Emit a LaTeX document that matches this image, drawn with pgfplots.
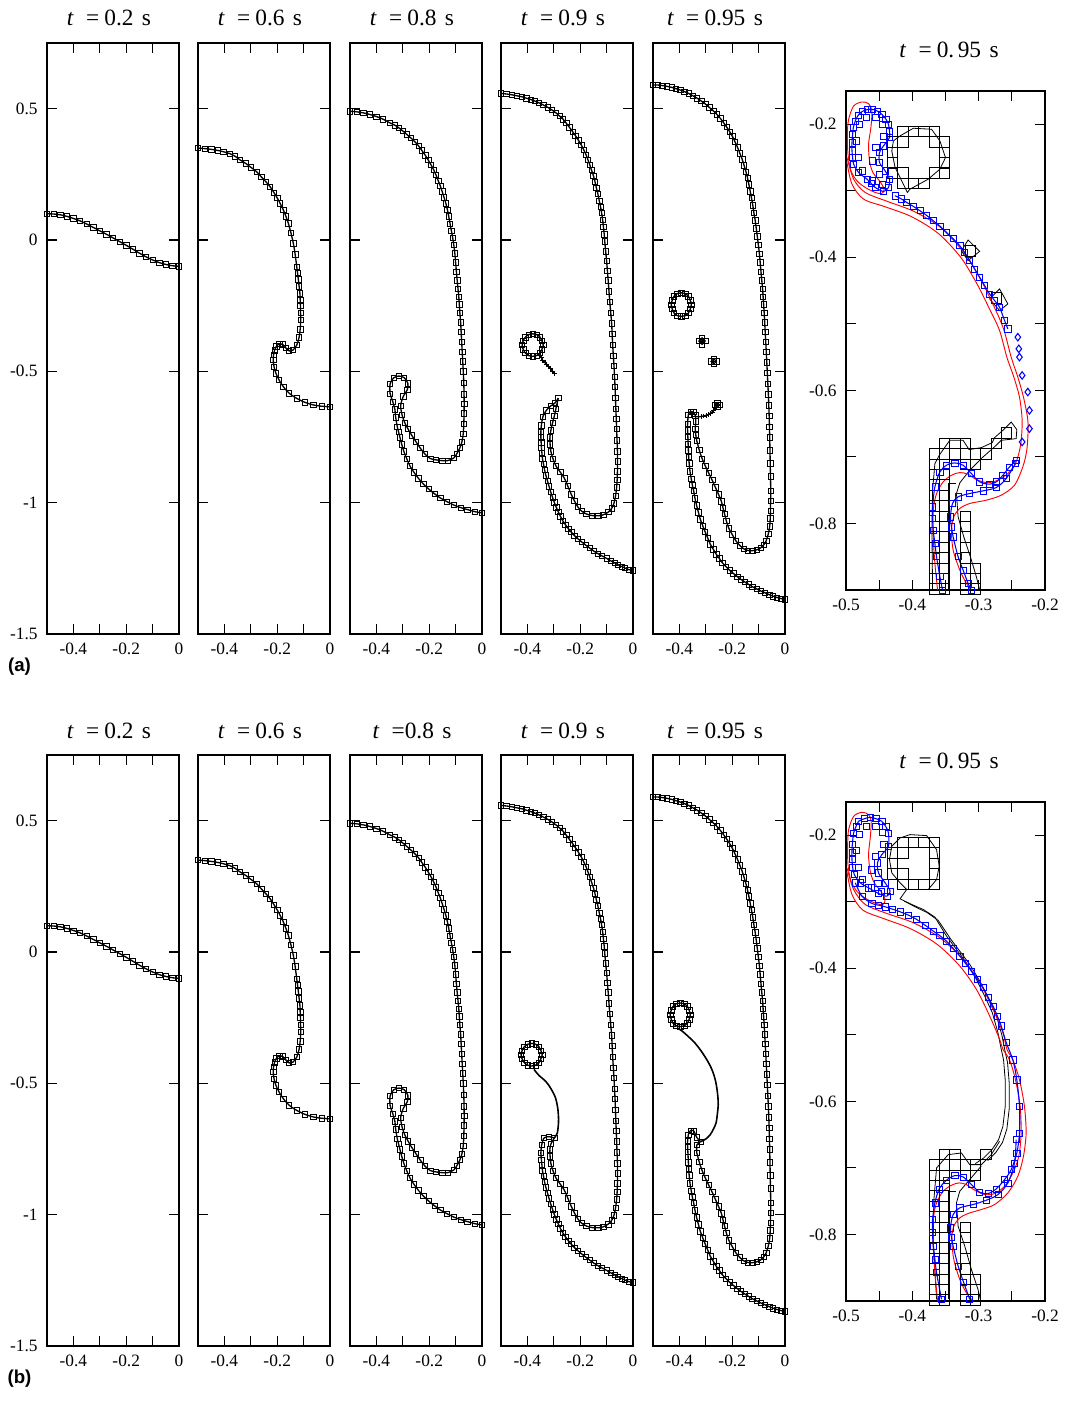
\documentclass[border=0pt]{standalone}
\usepackage{fontspec}
\setmainfont{Liberation Serif}
\newfontfamily\sansfam{Liberation Sans}
\usepackage{pgfplots}
\usepackage{pgfplotstable}
\pgfplotsset{compat=1.18}

\pgfplotsset{
  base/.style={scale only axis, axis line style={line width=1.1pt}, tick align=inside,
    tick style={black, line width=0.8pt}, major tick length=7.5pt,
    ticklabel style={font=\fontsize{13}{15}\selectfont},
    xticklabel style={yshift=-3pt}, yticklabel style={xshift=-3.5pt}, clip=true},
  narrow/.style={base, width=99pt, height=443.25pt, xmin=-0.5, xmax=0, ymin=-1.5, ymax=0.75,
    xtick={-0.5,-0.4,-0.3,-0.2,-0.1,0}, xticklabels={,-0.4,,-0.2,,0},
    ytick={-1.5,-1,-0.5,0,0.5}, yticklabels={}},
  zoomp/.style={base, width=149.25pt, height=374.25pt, xmin=-0.5, xmax=-0.2, ymin=-0.9, ymax=-0.15,
    xtick={-0.5,-0.45,-0.4,-0.35,-0.3,-0.25,-0.2}, xticklabels={-0.5,,-0.4,,-0.3,,-0.2},
    ytick={-0.9,-0.8,-0.7,-0.6,-0.5,-0.4,-0.3,-0.2}, yticklabels={,-0.8,,-0.6,,-0.4,,-0.2}},
  curve/.style={black, line width=1pt, mark=square, mark size=2pt, mark options={solid, line width=0.45pt}},
  thread/.style={black, line width=1pt, mark=+, mark size=1.8pt, mark options={solid, line width=0.45pt}},
  plain/.style={black, line width=1.2pt},
  bluec/.style={blue, line width=0.8pt, mark=square, mark size=2.3pt, mark options={solid, line width=0.5pt}},
  bluem/.style={blue, only marks, mark=square, mark size=2.3pt, mark options={solid, line width=0.5pt}},
  blued/.style={blue, only marks, mark=diamond, mark size=2.8pt, mark options={solid, line width=0.8pt}},
  redc/.style={red, line width=0.7pt},
  blk/.style={black, line width=0.6pt},
  blksq/.style={black, only marks, mark=square, mark size=3.9pt, mark options={solid, line width=0.6pt}},
}

\pgfplotstableread{
x y
-0.5 0.100
-0.475 0.099
-0.45 0.096
-0.425 0.090
-0.4 0.082
-0.375 0.073
-0.35 0.061
-0.325 0.048
-0.3 0.035
-0.275 0.022
-0.25 0.008
-0.225 -0.006
-0.2 -0.020
-0.175 -0.035
-0.15 -0.050
-0.125 -0.064
-0.1 -0.076
-0.075 -0.086
-0.05 -0.093
-0.025 -0.098
0 -0.100
}\pone

\pgfplotstableread{
x y
-0.5 0.350
-0.475 0.348
-0.45 0.345
-0.425 0.341
-0.404 0.336
-0.38 0.329
-0.36 0.319
-0.341 0.305
-0.32 0.292
-0.3 0.277
-0.278 0.260
-0.26 0.240
-0.243 0.222
-0.227 0.203
-0.212 0.180
-0.2 0.160
-0.189 0.140
-0.177 0.115
-0.167 0.090
-0.158 0.064
-0.148 0.027
-0.139 -0.012
-0.132 -0.055
-0.126 -0.102
-0.123 -0.126
-0.12 -0.150
-0.117 -0.176
-0.114 -0.203
-0.113 -0.227
-0.112 -0.250
-0.1115 -0.277
-0.111 -0.304
-0.113 -0.340
-0.117 -0.370
-0.126 -0.400
-0.140 -0.419
-0.155 -0.422
-0.168 -0.410
-0.180 -0.397
-0.192 -0.395
-0.203 -0.405
-0.210 -0.420
-0.214 -0.438
-0.215 -0.457
-0.212 -0.483
-0.205 -0.507
-0.193 -0.533
-0.177 -0.558
-0.155 -0.583
-0.126 -0.603
-0.095 -0.618
-0.063 -0.628
-0.030 -0.633
0 -0.635
}\ptwo

\pgfplotstableread{
x y
-0.5 0.490
-0.475 0.488
-0.45 0.484
-0.425 0.478
-0.4 0.470
-0.375 0.460
-0.349 0.446
-0.33 0.437
-0.315 0.427
-0.3 0.415
-0.285 0.402
-0.27 0.389
-0.255 0.375
-0.24 0.358
-0.228 0.341
-0.215 0.323
-0.204 0.305
-0.193 0.286
-0.183 0.267
-0.174 0.247
-0.166 0.226
-0.158 0.206
-0.151 0.185
-0.144 0.163
-0.137 0.140
-0.131 0.115
-0.126 0.090
-0.121 0.062
-0.116 0.035
-0.111 0.008
-0.107 -0.018
-0.103 -0.050
-0.100 -0.085
-0.097 -0.120
-0.094 -0.154
-0.091 -0.185
-0.088 -0.215
-0.086 -0.245
-0.084 -0.276
-0.081 -0.313
-0.079 -0.350
-0.077 -0.388
-0.075 -0.425
-0.073 -0.462
-0.071 -0.500
-0.069 -0.544
-0.068 -0.588
-0.0675 -0.624
-0.068 -0.660
-0.069 -0.700
-0.071 -0.737
-0.076 -0.768
-0.084 -0.792
-0.095 -0.813
-0.107 -0.830
-0.130 -0.840
-0.151 -0.840
-0.175 -0.837
-0.196 -0.832
-0.216 -0.815
-0.234 -0.792
-0.250 -0.768
-0.266 -0.744
-0.280 -0.720
-0.292 -0.697
-0.303 -0.665
-0.308 -0.630
-0.298 -0.595
-0.283 -0.570
-0.281 -0.545
-0.295 -0.524
-0.315 -0.518
-0.335 -0.525
-0.348 -0.548
-0.348 -0.585
-0.338 -0.615
-0.330 -0.645
-0.327 -0.675
-0.321 -0.710
-0.316 -0.731
-0.311 -0.751
-0.304 -0.778
-0.296 -0.805
-0.285 -0.833
-0.273 -0.860
-0.258 -0.884
-0.241 -0.907
-0.222 -0.929
-0.202 -0.948
-0.180 -0.966
-0.158 -0.982
-0.133 -0.996
-0.107 -1.009
-0.080 -1.019
-0.056 -1.026
-0.028 -1.034
0 -1.039
}\pthree

\pgfplotstableread{
x y
-0.5 0.558
-0.48 0.556
-0.46 0.553
-0.44 0.549
-0.42 0.545
-0.404 0.540
-0.388 0.535
-0.372 0.529
-0.356 0.522
-0.34 0.514
-0.323 0.505
-0.307 0.495
-0.292 0.484
-0.278 0.472
-0.265 0.460
-0.253 0.445
-0.241 0.429
-0.229 0.413
-0.218 0.397
-0.207 0.380
-0.196 0.362
-0.187 0.344
-0.178 0.325
-0.171 0.306
-0.164 0.287
-0.157 0.266
-0.150 0.245
-0.144 0.222
-0.139 0.199
-0.133 0.175
-0.128 0.150
-0.123 0.127
-0.119 0.104
-0.115 0.077
-0.112 0.050
-0.109 0.022
-0.107 -0.005
-0.1035 -0.043
-0.100 -0.080
-0.097 -0.117
-0.094 -0.154
-0.091 -0.195
-0.088 -0.235
-0.0845 -0.276
-0.081 -0.317
-0.079 -0.358
-0.077 -0.400
-0.0745 -0.440
-0.072 -0.480
-0.070 -0.520
-0.068 -0.560
-0.0665 -0.600
-0.065 -0.642
-0.0635 -0.681
-0.062 -0.720
-0.0605 -0.762
-0.059 -0.805
-0.0585 -0.843
-0.059 -0.880
-0.060 -0.912
-0.062 -0.941
-0.066 -0.973
-0.072 -1.002
-0.081 -1.022
-0.094 -1.036
-0.112 -1.046
-0.132 -1.050
-0.155 -1.049
-0.177 -1.043
-0.195 -1.032
-0.209 -1.016
-0.222 -0.993
-0.234 -0.968
-0.247 -0.937
-0.260 -0.907
-0.276 -0.883
-0.292 -0.860
-0.303 -0.833
-0.311 -0.805
-0.314 -0.778
-0.315 -0.751
}\pfourmain

\pgfplotstableread{
x y
-0.347 -0.790
-0.345 -0.811
-0.343 -0.832
-0.339 -0.853
-0.335 -0.875
-0.330 -0.896
-0.324 -0.917
-0.318 -0.938
-0.312 -0.958
-0.305 -0.979
-0.298 -0.999
-0.291 -1.017
-0.283 -1.035
-0.275 -1.052
-0.266 -1.069
-0.256 -1.084
-0.245 -1.099
-0.234 -1.112
-0.222 -1.125
-0.209 -1.137
-0.195 -1.149
-0.180 -1.161
-0.164 -1.173
-0.149 -1.184
-0.133 -1.194
-0.117 -1.203
-0.100 -1.212
-0.085 -1.221
-0.070 -1.229
-0.057 -1.236
-0.043 -1.243
-0.030 -1.249
-0.015 -1.255
0 -1.258
}\pfourlow

\pgfplotstableread{
x y
-0.5 0.590
-0.482 0.590
-0.465 0.588
-0.447 0.585
-0.429 0.581
-0.413 0.576
-0.397 0.571
-0.381 0.565
-0.365 0.558
-0.349 0.549
-0.333 0.540
-0.317 0.529
-0.302 0.518
-0.287 0.505
-0.272 0.492
-0.258 0.478
-0.245 0.463
-0.233 0.447
-0.221 0.430
-0.210 0.413
-0.200 0.396
-0.190 0.375
-0.180 0.353
-0.171 0.330
-0.162 0.307
-0.155 0.284
-0.148 0.260
-0.142 0.236
-0.137 0.212
-0.132 0.186
-0.127 0.160
-0.122 0.132
-0.118 0.104
-0.113 0.075
-0.109 0.045
-0.105 0.014
-0.101 -0.018
-0.097 -0.052
-0.094 -0.085
-0.091 -0.120
-0.088 -0.154
-0.085 -0.185
-0.083 -0.215
-0.081 -0.245
-0.079 -0.276
-0.077 -0.313
-0.075 -0.350
-0.073 -0.388
-0.071 -0.425
-0.069 -0.465
-0.067 -0.505
-0.065 -0.547
-0.063 -0.588
-0.0615 -0.629
-0.060 -0.670
-0.059 -0.710
-0.058 -0.751
-0.057 -0.800
-0.056 -0.850
-0.055 -0.900
-0.054 -0.955
-0.0545 -0.993
-0.055 -1.030
-0.056 -1.060
-0.058 -1.090
-0.063 -1.118
-0.071 -1.144
-0.080 -1.160
-0.092 -1.172
-0.108 -1.180
-0.124 -1.183
-0.140 -1.182
-0.156 -1.176
-0.172 -1.162
-0.187 -1.144
-0.200 -1.121
-0.213 -1.097
-0.222 -1.070
-0.229 -1.043
-0.235 -1.019
-0.241 -0.995
-0.252 -0.968
-0.264 -0.941
-0.276 -0.914
-0.289 -0.887
-0.302 -0.860
-0.314 -0.832
-0.325 -0.799
-0.334 -0.765
}\pfivemain

\pgfplotstableread{
x y
-0.366 -0.800
-0.365 -0.825
-0.363 -0.850
-0.360 -0.880
-0.355 -0.910
-0.351 -0.933
-0.346 -0.955
-0.341 -0.983
-0.335 -1.010
-0.328 -1.037
-0.321 -1.063
-0.312 -1.087
-0.303 -1.110
-0.293 -1.134
-0.283 -1.158
-0.272 -1.177
-0.260 -1.197
-0.249 -1.212
-0.238 -1.228
-0.224 -1.243
-0.210 -1.257
-0.196 -1.269
-0.181 -1.281
-0.167 -1.292
-0.152 -1.302
-0.138 -1.311
-0.124 -1.320
-0.108 -1.328
-0.092 -1.336
-0.076 -1.343
-0.060 -1.350
-0.045 -1.356
-0.030 -1.361
-0.015 -1.365
0 -1.368
}\pfivelow

\newcommand{\ttl}[1]{\textit{t}\hspace{0.52em}=\hspace{0.22em}#1\hspace{0.36em}s}

\begin{document}
\begin{tikzpicture}
\path[use as bounding box] (0pt,0pt) rectangle (800.25pt,-1053.75pt);

% ================= ROW (a) =================
\begin{axis}[narrow, at={(35.25pt,-32.25pt)}, anchor=north west, yticklabels={-1.5,-1,-0.5,0,0.5}]
\addplot[curve, smooth] table {\pone};
\end{axis}
\begin{axis}[narrow, at={(148.5pt,-32.25pt)}, anchor=north west]
\addplot[curve, smooth] table {\ptwo};
\end{axis}
\begin{axis}[narrow, at={(262.5pt,-32.25pt)}, anchor=north west]
\addplot[curve, smooth] table {\pthree};
\end{axis}
\begin{axis}[narrow, at={(375.75pt,-32.25pt)}, anchor=north west]
\addplot[curve, smooth] table {\pfourmain};
\addplot[curve, smooth] coordinates {(-0.315,-0.751) (-0.311,-0.724) (-0.305,-0.697) (-0.298,-0.670) (-0.292,-0.642) (-0.283,-0.602)};
\addplot[curve, smooth] coordinates {(-0.283,-0.602) (-0.295,-0.620) (-0.312,-0.632) (-0.328,-0.648) (-0.341,-0.672) (-0.347,-0.705) (-0.349,-0.730) (-0.349,-0.751) (-0.348,-0.770) (-0.347,-0.790)};
\addplot[curve, smooth] table {\pfourlow};
\addplot[curve, smooth cycle] coordinates {(-0.340,-0.400) (-0.345,-0.384) (-0.352,-0.370) (-0.365,-0.360) (-0.380,-0.357) (-0.395,-0.360) (-0.408,-0.370) (-0.416,-0.384) (-0.420,-0.400) (-0.416,-0.416) (-0.408,-0.430) (-0.395,-0.440) (-0.380,-0.443) (-0.365,-0.440) (-0.352,-0.430) (-0.345,-0.416)};
\addplot[thread, smooth] coordinates {(-0.352,-0.438) (-0.347,-0.448) (-0.342,-0.458) (-0.334,-0.466) (-0.327,-0.473) (-0.320,-0.481) (-0.312,-0.490) (-0.305,-0.499) (-0.298,-0.508)};
\end{axis}
\begin{axis}[narrow, at={(489.75pt,-32.25pt)}, anchor=north west]
\addplot[curve, smooth] table {\pfivemain};
\addplot[curve, smooth] coordinates {(-0.334,-0.765) (-0.338,-0.742) (-0.340,-0.720) (-0.338,-0.690) (-0.340,-0.668) (-0.348,-0.655) (-0.358,-0.653) (-0.366,-0.665) (-0.369,-0.700) (-0.369,-0.725) (-0.368,-0.750) (-0.367,-0.775) (-0.366,-0.800)};
\addplot[curve, smooth] table {\pfivelow};
\addplot[thread, smooth] coordinates {(-0.338,-0.672) (-0.328,-0.673) (-0.318,-0.672) (-0.309,-0.670) (-0.300,-0.668) (-0.291,-0.665) (-0.283,-0.660) (-0.276,-0.655) (-0.270,-0.648) (-0.262,-0.638)};
\addplot[curve, smooth cycle] coordinates {(-0.249,-0.628) (-0.257,-0.620) (-0.265,-0.628) (-0.257,-0.636)};
\addplot[curve, smooth cycle] coordinates {(-0.355,-0.246) (-0.359,-0.229) (-0.366,-0.214) (-0.378,-0.204) (-0.393,-0.201) (-0.408,-0.204) (-0.420,-0.214) (-0.427,-0.229) (-0.431,-0.246) (-0.427,-0.263) (-0.420,-0.278) (-0.408,-0.288) (-0.393,-0.291) (-0.378,-0.288) (-0.366,-0.278) (-0.359,-0.263)};
\addplot[curve] coordinates {(-0.302,-0.385) (-0.314,-0.373) (-0.326,-0.385) (-0.314,-0.397) (-0.302,-0.385)};
\addplot[curve] coordinates {(-0.260,-0.462) (-0.270,-0.452) (-0.280,-0.462) (-0.270,-0.472) (-0.260,-0.462)};
\end{axis}

% zoom (a)
\begin{axis}[zoomp, at={(634.5pt,-68.25pt)}, anchor=north west]
\addplot[blk] coordinates {(-0.4185,-0.2175) (-0.3985,-0.206) (-0.371,-0.2075) (-0.3585,-0.225) (-0.350,-0.250) (-0.3585,-0.2675) (-0.376,-0.2825) (-0.4035,-0.2975) (-0.4075,-0.3025) (-0.4185,-0.280) (-0.426,-0.265) (-0.431,-0.240) (-0.4285,-0.225) (-0.4185,-0.2175)};
\addplot[blksq] coordinates {(-0.4141,-0.2109) (-0.3984,-0.2109) (-0.3828,-0.2109) (-0.3672,-0.2109)
 (-0.4297,-0.2266) (-0.4141,-0.2266) (-0.3672,-0.2266) (-0.3516,-0.2266)
 (-0.4297,-0.2422) (-0.3516,-0.2422) (-0.4297,-0.2578) (-0.3516,-0.2578)
 (-0.4297,-0.2734) (-0.4141,-0.2734) (-0.3672,-0.2734) (-0.3516,-0.2734)
 (-0.4141,-0.2891) (-0.3984,-0.2891) (-0.3828,-0.2891)};
\addplot[blk] coordinates {(-0.326,-0.390) (-0.316,-0.374) (-0.2985,-0.391) (-0.316,-0.405) (-0.326,-0.390)};
\addplot[blk] coordinates {(-0.2835,-0.4625) (-0.2685,-0.4475) (-0.256,-0.470) (-0.2685,-0.480) (-0.2835,-0.4625)};
\addplot[blksq] coordinates {(-0.3125,-0.3906) (-0.2734,-0.4609)};
\addplot[blk] coordinates {(-0.3695,-0.900) (-0.3705,-0.810) (-0.3695,-0.750) (-0.366,-0.710) (-0.3585,-0.696) (-0.3435,-0.675) (-0.3235,-0.675) (-0.3145,-0.689) (-0.296,-0.686) (-0.2795,-0.6785) (-0.276,-0.671) (-0.2635,-0.660) (-0.251,-0.6475) (-0.2425,-0.659) (-0.2435,-0.6725) (-0.266,-0.675) (-0.2735,-0.6825) (-0.2945,-0.701) (-0.3135,-0.720) (-0.3285,-0.739) (-0.3335,-0.755) (-0.331,-0.790) (-0.3225,-0.820) (-0.3125,-0.850) (-0.3035,-0.880) (-0.2985,-0.900)};
\addplot[blk] coordinates {(-0.346,-0.900) (-0.346,-0.740) (-0.3335,-0.740)};
\addplot[blksq] coordinates {(-0.3516,-0.6797) (-0.3359,-0.6797) (-0.3203,-0.6797)
 (-0.3672,-0.6953) (-0.3516,-0.6953) (-0.3359,-0.6953) (-0.3203,-0.6953) (-0.3047,-0.6953) (-0.2891,-0.6953) (-0.2734,-0.6797) (-0.2578,-0.6641)
 (-0.3672,-0.7109) (-0.3516,-0.7109) (-0.3203,-0.7109) (-0.3047,-0.7109)
 (-0.3672,-0.7266) (-0.3516,-0.7266) (-0.3672,-0.7422) (-0.3516,-0.7422)
 (-0.3672,-0.7578) (-0.3516,-0.7578) (-0.3672,-0.7734) (-0.3516,-0.7734)
 (-0.3672,-0.7891) (-0.3516,-0.7891) (-0.3672,-0.8047) (-0.3516,-0.8047)
 (-0.3672,-0.8203) (-0.3516,-0.8203) (-0.3672,-0.8359) (-0.3516,-0.8359)
 (-0.3672,-0.8516) (-0.3516,-0.8516) (-0.3672,-0.8672) (-0.3516,-0.8672)
 (-0.3672,-0.8828) (-0.3516,-0.8828) (-0.3672,-0.8984) (-0.3516,-0.8984)
 (-0.3203,-0.7891) (-0.3203,-0.8047) (-0.3203,-0.8203) (-0.3203,-0.8359) (-0.3203,-0.8516) (-0.3203,-0.8672) (-0.3203,-0.8828) (-0.3203,-0.8984)
 (-0.3047,-0.8672) (-0.3047,-0.8828) (-0.3047,-0.8984)};
\addplot[redc, smooth cycle] coordinates {(-0.496,-0.1925) (-0.4885,-0.1725) (-0.476,-0.1665) (-0.466,-0.169) (-0.461,-0.180) (-0.4625,-0.205) (-0.466,-0.230) (-0.4645,-0.255) (-0.4595,-0.2725) (-0.4495,-0.285) (-0.4425,-0.2975) (-0.446,-0.304) (-0.456,-0.3025) (-0.471,-0.295) (-0.4835,-0.285) (-0.4925,-0.270) (-0.497,-0.245) (-0.498,-0.215)};
\addplot[redc, smooth] coordinates {(-0.4985,-0.250) (-0.4885,-0.2825) (-0.471,-0.3025) (-0.4375,-0.316) (-0.3975,-0.331) (-0.3575,-0.355) (-0.3225,-0.3925) (-0.2975,-0.4325) (-0.2775,-0.4725) (-0.2625,-0.5075) (-0.251,-0.550) (-0.241,-0.580) (-0.2325,-0.610) (-0.2265,-0.640) (-0.2255,-0.660) (-0.2275,-0.690) (-0.2335,-0.715) (-0.246,-0.7425) (-0.266,-0.7575) (-0.2885,-0.765) (-0.3135,-0.770) (-0.3285,-0.7775) (-0.3375,-0.790) (-0.341,-0.810) (-0.3385,-0.840) (-0.3285,-0.870) (-0.3185,-0.890) (-0.311,-0.900)};
\addplot[redc, smooth] coordinates {(-0.4985,-0.2575) (-0.491,-0.290) (-0.4735,-0.3125) (-0.441,-0.324) (-0.401,-0.339) (-0.361,-0.364) (-0.327,-0.400) (-0.3025,-0.440) (-0.2825,-0.480) (-0.2685,-0.510) (-0.2575,-0.550) (-0.247,-0.580) (-0.2385,-0.610) (-0.2345,-0.645) (-0.2365,-0.680) (-0.2435,-0.7075) (-0.256,-0.725) (-0.2735,-0.736) (-0.2885,-0.7385) (-0.3035,-0.734) (-0.316,-0.726) (-0.3285,-0.7235) (-0.341,-0.7275) (-0.3535,-0.7375) (-0.3635,-0.755) (-0.3685,-0.780) (-0.3685,-0.820) (-0.366,-0.860) (-0.362,-0.900)};
\addplot[bluec, smooth cycle] coordinates {(-0.486,-0.195) (-0.482,-0.187) (-0.476,-0.181) (-0.468,-0.178) (-0.461,-0.1775) (-0.453,-0.180) (-0.446,-0.185) (-0.440,-0.192) (-0.436,-0.200) (-0.4345,-0.210) (-0.4345,-0.220) (-0.4435,-0.2325) (-0.4495,-0.2425) (-0.4495,-0.2575) (-0.441,-0.270) (-0.4345,-0.2825) (-0.436,-0.295) (-0.4435,-0.301) (-0.456,-0.295) (-0.462,-0.289) (-0.4685,-0.2825) (-0.481,-0.2725) (-0.4885,-0.260) (-0.490,-0.250) (-0.491,-0.240) (-0.491,-0.228) (-0.490,-0.215) (-0.489,-0.205)};
\addplot[bluem] coordinates {(-0.480,-0.200) (-0.470,-0.190) (-0.455,-0.190) (-0.445,-0.200) (-0.443,-0.218) (-0.455,-0.235) (-0.460,-0.255) (-0.450,-0.275) (-0.445,-0.290) (-0.460,-0.285) (-0.475,-0.270) (-0.482,-0.250) (-0.484,-0.225)};
\addplot[bluec, smooth] coordinates {(-0.426,-0.3075) (-0.417,-0.312) (-0.4085,-0.3175) (-0.3985,-0.3235) (-0.3885,-0.330) (-0.3785,-0.337) (-0.3685,-0.345) (-0.3585,-0.353) (-0.3485,-0.3625) (-0.3385,-0.372) (-0.3285,-0.3825) (-0.321,-0.393) (-0.3135,-0.405) (-0.306,-0.4175) (-0.2985,-0.430) (-0.291,-0.4425) (-0.2835,-0.455) (-0.276,-0.465) (-0.2685,-0.475) (-0.261,-0.495) (-0.256,-0.5075)};
\addplot[blued] coordinates {(-0.241,-0.520) (-0.2395,-0.5375) (-0.2385,-0.550) (-0.2345,-0.5775) (-0.226,-0.6025) (-0.2235,-0.630) (-0.2235,-0.6575) (-0.2345,-0.6775)};
\addplot[bluec, smooth] coordinates {(-0.2435,-0.705) (-0.2535,-0.715) (-0.2635,-0.7275) (-0.2735,-0.7375) (-0.2835,-0.741) (-0.2985,-0.7375) (-0.311,-0.725) (-0.3235,-0.7125) (-0.336,-0.709) (-0.3485,-0.7125) (-0.3585,-0.7225) (-0.366,-0.745) (-0.3695,-0.775) (-0.3695,-0.792) (-0.3685,-0.810) (-0.366,-0.830) (-0.3635,-0.850) (-0.3585,-0.880) (-0.3545,-0.900)};
\addplot[bluec, smooth] coordinates {(-0.2445,-0.710) (-0.2585,-0.7325) (-0.2735,-0.746) (-0.2935,-0.751) (-0.3135,-0.755) (-0.331,-0.760) (-0.3395,-0.770) (-0.3425,-0.790) (-0.341,-0.805) (-0.3385,-0.820) (-0.331,-0.850) (-0.3235,-0.870) (-0.316,-0.890) (-0.311,-0.900)};
\end{axis}

% ================= ROW (b) =================
\begin{axis}[narrow, at={(35.25pt,-566.25pt)}, anchor=north west, yticklabels={-1.5,-1,-0.5,0,0.5}]
\addplot[curve, smooth] table {\pone};
\end{axis}
\begin{axis}[narrow, at={(148.5pt,-566.25pt)}, anchor=north west]
\addplot[curve, smooth] table {\ptwo};
\end{axis}
\begin{axis}[narrow, at={(262.5pt,-566.25pt)}, anchor=north west]
\addplot[curve, smooth] table {\pthree};
\end{axis}
\begin{axis}[narrow, at={(375.75pt,-566.25pt)}, anchor=north west]
\addplot[curve, smooth] table {\pfourmain};
\addplot[curve, smooth] coordinates {(-0.315,-0.751) (-0.311,-0.731) (-0.298,-0.708)};
\addplot[plain, smooth] coordinates {(-0.298,-0.708) (-0.287,-0.690) (-0.283,-0.660) (-0.282,-0.636) (-0.285,-0.595) (-0.294,-0.554) (-0.311,-0.520) (-0.330,-0.493) (-0.356,-0.470) (-0.375,-0.447)};
\addplot[curve, smooth] coordinates {(-0.298,-0.708) (-0.318,-0.703) (-0.337,-0.708) (-0.346,-0.735) (-0.349,-0.765) (-0.347,-0.790)};
\addplot[curve, smooth] table {\pfourlow};
\addplot[curve, smooth cycle] coordinates {(-0.344,-0.391) (-0.349,-0.375) (-0.356,-0.361) (-0.369,-0.351) (-0.384,-0.348) (-0.399,-0.351) (-0.412,-0.361) (-0.420,-0.375) (-0.424,-0.391) (-0.420,-0.407) (-0.412,-0.421) (-0.399,-0.431) (-0.384,-0.434) (-0.369,-0.431) (-0.356,-0.421) (-0.349,-0.407)};
\end{axis}
\begin{axis}[narrow, at={(489.75pt,-566.25pt)}, anchor=north west]
\addplot[curve, smooth] table {\pfivemain};
\addplot[curve, smooth] coordinates {(-0.334,-0.765) (-0.334,-0.735) (-0.320,-0.722)};
\addplot[plain, smooth] coordinates {(-0.320,-0.722) (-0.300,-0.712) (-0.283,-0.695) (-0.270,-0.672) (-0.261,-0.650) (-0.256,-0.615) (-0.253,-0.582) (-0.254,-0.555) (-0.257,-0.527) (-0.262,-0.496) (-0.270,-0.466) (-0.281,-0.438) (-0.295,-0.412) (-0.310,-0.388) (-0.327,-0.364) (-0.345,-0.342) (-0.365,-0.323) (-0.385,-0.305) (-0.405,-0.290)};
\addplot[curve, smooth] coordinates {(-0.320,-0.722) (-0.335,-0.705) (-0.345,-0.682) (-0.358,-0.680) (-0.366,-0.695) (-0.369,-0.720) (-0.369,-0.740) (-0.368,-0.760) (-0.367,-0.780) (-0.366,-0.800)};
\addplot[curve, smooth] table {\pfivelow};
\addplot[curve, smooth cycle] coordinates {(-0.359,-0.239) (-0.363,-0.222) (-0.370,-0.207) (-0.382,-0.197) (-0.397,-0.194) (-0.412,-0.197) (-0.424,-0.207) (-0.431,-0.222) (-0.435,-0.239) (-0.431,-0.256) (-0.424,-0.271) (-0.412,-0.281) (-0.397,-0.284) (-0.382,-0.281) (-0.370,-0.271) (-0.363,-0.256)};
\end{axis}

% zoom (b)
\begin{axis}[zoomp, at={(634.5pt,-601.5pt)}, anchor=north west]
\addplot[blk] coordinates {(-0.431,-0.2165) (-0.4185,-0.204) (-0.4035,-0.199) (-0.3785,-0.2005) (-0.3635,-0.2215) (-0.3595,-0.2465) (-0.3635,-0.2665) (-0.376,-0.2815) (-0.4085,-0.2815) (-0.4185,-0.2715) (-0.431,-0.2565) (-0.4345,-0.2365) (-0.431,-0.2165)};
\addplot[blksq] coordinates {(-0.4141,-0.2109) (-0.3984,-0.2109) (-0.3828,-0.2109) (-0.3672,-0.2109)
 (-0.4297,-0.2266) (-0.4141,-0.2266) (-0.3672,-0.2266)
 (-0.4297,-0.2422) (-0.3672,-0.2422)
 (-0.4297,-0.2578) (-0.4141,-0.2578) (-0.3672,-0.2578)
 (-0.4141,-0.2734) (-0.3984,-0.2734) (-0.3828,-0.2734) (-0.3672,-0.2734)};
\addplot[blk] coordinates {(-0.4085,-0.2815) (-0.4185,-0.2955) (-0.401,-0.304) (-0.3835,-0.3115) (-0.366,-0.323) (-0.3485,-0.3515) (-0.3335,-0.3715) (-0.3185,-0.3915) (-0.3035,-0.4165) (-0.291,-0.4415) (-0.2795,-0.4665) (-0.271,-0.4965) (-0.266,-0.5215) (-0.2625,-0.5375) (-0.260,-0.5675) (-0.260,-0.6075) (-0.2635,-0.6375) (-0.270,-0.6575) (-0.280,-0.6725) (-0.2925,-0.685) (-0.305,-0.6935)};
\addplot[blk] coordinates {(-0.4120,-0.2990) (-0.395,-0.3080) (-0.378,-0.3160) (-0.361,-0.3280) (-0.3425,-0.3555) (-0.3275,-0.3755) (-0.3125,-0.3955) (-0.2975,-0.4205) (-0.285,-0.4455) (-0.2735,-0.4705) (-0.265,-0.5005) (-0.260,-0.5255) (-0.2565,-0.5415) (-0.254,-0.5715) (-0.254,-0.6115) (-0.2575,-0.6415) (-0.264,-0.6615) (-0.274,-0.6765) (-0.2865,-0.6890)};
\addplot[blk] coordinates {(-0.3635,-0.8975) (-0.3685,-0.8075) (-0.3675,-0.7475) (-0.3635,-0.700) (-0.346,-0.680) (-0.326,-0.6775) (-0.3135,-0.695) (-0.296,-0.695) (-0.281,-0.680) (-0.2685,-0.660)};
\addplot[blk] coordinates {(-0.296,-0.697) (-0.3135,-0.7175) (-0.3285,-0.735) (-0.3335,-0.7525) (-0.331,-0.7875) (-0.321,-0.8175) (-0.311,-0.8525) (-0.301,-0.8825) (-0.2975,-0.8975)};
\addplot[blk] coordinates {(-0.346,-0.8975) (-0.346,-0.735) (-0.3335,-0.735)};
\addplot[blksq] coordinates {(-0.3516,-0.6797) (-0.3359,-0.6797)
 (-0.3672,-0.6953) (-0.3516,-0.6953) (-0.3359,-0.6953) (-0.3203,-0.6953) (-0.3047,-0.6953) (-0.2891,-0.6797)
 (-0.3672,-0.7109) (-0.3516,-0.7109) (-0.3203,-0.7109) (-0.3047,-0.7109)
 (-0.3672,-0.7266) (-0.3516,-0.7266) (-0.3672,-0.7422) (-0.3516,-0.7422)
 (-0.3672,-0.7578) (-0.3516,-0.7578) (-0.3672,-0.7734) (-0.3516,-0.7734)
 (-0.3672,-0.7891) (-0.3516,-0.7891) (-0.3672,-0.8047) (-0.3516,-0.8047)
 (-0.3672,-0.8203) (-0.3516,-0.8203) (-0.3672,-0.8359) (-0.3516,-0.8359)
 (-0.3672,-0.8516) (-0.3516,-0.8516) (-0.3672,-0.8672) (-0.3516,-0.8672)
 (-0.3672,-0.8828) (-0.3516,-0.8828) (-0.3672,-0.8984) (-0.3516,-0.8984)
 (-0.3203,-0.7891) (-0.3203,-0.8047) (-0.3203,-0.8203) (-0.3203,-0.8359) (-0.3203,-0.8516) (-0.3203,-0.8672) (-0.3203,-0.8828) (-0.3203,-0.8984)
 (-0.3047,-0.8672) (-0.3047,-0.8828) (-0.3047,-0.8984)};
\addplot[redc, smooth cycle] coordinates {(-0.496,-0.1915) (-0.4885,-0.1715) (-0.476,-0.1655) (-0.466,-0.169) (-0.462,-0.179) (-0.4635,-0.204) (-0.466,-0.229) (-0.4635,-0.254) (-0.4575,-0.2715) (-0.4475,-0.284) (-0.441,-0.2965) (-0.4445,-0.304) (-0.4545,-0.3025) (-0.4695,-0.2955) (-0.4825,-0.2855) (-0.4925,-0.269) (-0.497,-0.244) (-0.4975,-0.214)};
\addplot[redc, smooth] coordinates {(-0.4985,-0.249) (-0.4885,-0.2815) (-0.471,-0.304) (-0.4385,-0.3175) (-0.3985,-0.3315) (-0.3585,-0.354) (-0.3235,-0.3865) (-0.2985,-0.4215) (-0.2785,-0.4615) (-0.2635,-0.4965) (-0.2575,-0.5215) (-0.2485,-0.5375) (-0.2385,-0.5675) (-0.231,-0.6075) (-0.2285,-0.6475) (-0.2325,-0.6825) (-0.241,-0.7125) (-0.256,-0.7375) (-0.276,-0.755) (-0.296,-0.7625) (-0.316,-0.7685) (-0.3285,-0.775) (-0.3375,-0.7875) (-0.3405,-0.8075) (-0.3375,-0.8375) (-0.3285,-0.8675) (-0.3185,-0.8875) (-0.3085,-0.900)};
\addplot[redc, smooth] coordinates {(-0.4985,-0.2555) (-0.491,-0.289) (-0.4745,-0.3125) (-0.4425,-0.3255) (-0.4025,-0.3405) (-0.3625,-0.364) (-0.3285,-0.3965) (-0.3035,-0.4315) (-0.2835,-0.4715) (-0.2685,-0.5065) (-0.2635,-0.5215) (-0.2535,-0.5375) (-0.2445,-0.5675) (-0.2375,-0.6075) (-0.236,-0.6475) (-0.2395,-0.6825) (-0.2485,-0.7075) (-0.261,-0.7275) (-0.276,-0.7385) (-0.291,-0.740) (-0.306,-0.7335) (-0.3185,-0.725) (-0.3295,-0.7225) (-0.341,-0.726) (-0.3535,-0.735) (-0.3635,-0.7525) (-0.3685,-0.7775) (-0.3685,-0.8175) (-0.366,-0.8575) (-0.362,-0.900)};
\addplot[bluec, smooth cycle] coordinates {(-0.4885,-0.1965) (-0.485,-0.187) (-0.481,-0.179) (-0.472,-0.175) (-0.4635,-0.173) (-0.455,-0.175) (-0.446,-0.179) (-0.440,-0.187) (-0.436,-0.1965) (-0.436,-0.2165) (-0.446,-0.229) (-0.4525,-0.2415) (-0.451,-0.2565) (-0.441,-0.2715) (-0.4335,-0.284) (-0.4385,-0.2915) (-0.451,-0.2875) (-0.466,-0.279) (-0.4785,-0.2715) (-0.4875,-0.259) (-0.490,-0.248) (-0.491,-0.2365) (-0.491,-0.225) (-0.4905,-0.214)};
\addplot[bluem] coordinates {(-0.480,-0.198) (-0.470,-0.186) (-0.455,-0.186) (-0.445,-0.196) (-0.443,-0.214) (-0.456,-0.232) (-0.462,-0.252) (-0.452,-0.272) (-0.447,-0.284) (-0.462,-0.279) (-0.476,-0.266) (-0.482,-0.248) (-0.484,-0.222)};
\addplot[bluec, smooth] coordinates {(-0.486,-0.2715) (-0.476,-0.2915) (-0.461,-0.3025) (-0.451,-0.305) (-0.441,-0.3075) (-0.430,-0.311) (-0.4185,-0.315) (-0.406,-0.320) (-0.3935,-0.3265) (-0.381,-0.335) (-0.3685,-0.344) (-0.3585,-0.351) (-0.3485,-0.359) (-0.3385,-0.370) (-0.3285,-0.3815) (-0.3195,-0.393) (-0.311,-0.404) (-0.302,-0.4165) (-0.2935,-0.429) (-0.286,-0.443) (-0.2785,-0.4565) (-0.272,-0.4715) (-0.266,-0.4865) (-0.2585,-0.5115) (-0.2485,-0.5375) (-0.2425,-0.5675) (-0.2385,-0.6075) (-0.2385,-0.6475) (-0.2425,-0.6775) (-0.251,-0.7025) (-0.261,-0.7175) (-0.2735,-0.7315) (-0.286,-0.7385) (-0.2985,-0.7365) (-0.311,-0.725) (-0.3235,-0.7135) (-0.336,-0.7115) (-0.3485,-0.7185) (-0.3595,-0.7315) (-0.366,-0.7525) (-0.3695,-0.7775) (-0.3695,-0.797) (-0.3685,-0.8175) (-0.366,-0.837) (-0.3635,-0.8575) (-0.356,-0.8975)};
\addplot[bluec, smooth] coordinates {(-0.2435,-0.6575) (-0.246,-0.6925) (-0.256,-0.7225) (-0.271,-0.740) (-0.2885,-0.7485) (-0.3085,-0.755) (-0.3285,-0.760) (-0.3385,-0.770) (-0.3425,-0.790) (-0.341,-0.804) (-0.3385,-0.8175) (-0.331,-0.8475) (-0.3225,-0.8725) (-0.3135,-0.8975)};
\end{axis}

% ================= titles =================
\begin{scope}[every node/.style={anchor=base, font=\fontsize{17.5}{20}\selectfont, inner sep=0pt}]
\node at (81.75pt,-19.5pt) {\ttl{0.2}};
\node at (195pt,-19.5pt) {\ttl{0.6}};
\node at (309pt,-19.5pt) {\ttl{0.8}};
\node at (422.25pt,-19.5pt) {\ttl{0.9}};
\node at (536.25pt,-19.5pt) {\ttl{0.95}};
\node at (711.75pt,-43.5pt) {\ttl{0.\hspace{0.15em}95}};
\node at (81.75pt,-553.5pt) {\ttl{0.2}};
\node at (195pt,-553.5pt) {\ttl{0.6}};
\node at (309pt,-553.5pt) {\textit{t}\hspace{0.52em}=0.8\hspace{0.36em}s};
\node at (422.25pt,-553.5pt) {\ttl{0.9}};
\node at (536.25pt,-553.5pt) {\ttl{0.95}};
\node at (711.75pt,-576pt) {\ttl{0.\hspace{0.15em}95}};
\end{scope}
\node[font=\sansfam\bfseries\fontsize{14}{16}\selectfont, inner sep=0pt] at (14.6pt,-500pt) {(a)};
\node[font=\sansfam\bfseries\fontsize{14}{16}\selectfont, inner sep=0pt] at (14.6pt,-1034pt) {(b)};
\end{tikzpicture}
\end{document}
